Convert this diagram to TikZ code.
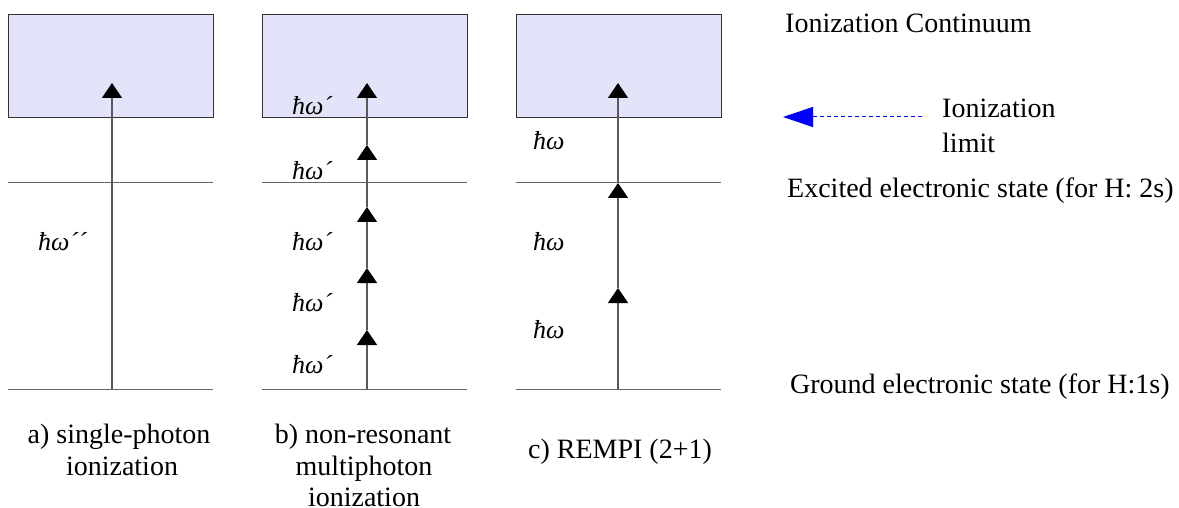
\documentclass[tikz,border=0pt]{standalone}
\usepackage{fontspec}
\setmainfont{Liberation Serif}
\usetikzlibrary{arrows.meta}
\definecolor{contfill}{RGB}{227,227,250}
\begin{document}
\begin{tikzpicture}[x=1pt,y=-1pt,
  cont/.style={draw=black!80,fill=contfill,line width=1pt,inner sep=0pt,
    minimum width=205pt,minimum height=103pt,anchor=north west},
  level/.style={draw=black!60,line width=1pt},
  photon/.style={draw=black!65,line width=1.5pt,
    -{Triangle[width=20pt,length=15pt,color=black]}},
  limarrow/.style={draw=blue,line width=1pt,dash pattern=on 4pt off 3pt,
    -{Triangle[width=20pt,length=30pt,color=blue]}},
  lbl/.style={font=\fontsize{28}{32}\selectfont,inner sep=0pt,anchor=base west},
  captext/.style={font=\fontsize{28}{32}\selectfont,inner sep=0pt,anchor=base},
  hw/.style={font=\fontsize{26}{30}\selectfont\itshape,inner sep=0pt,anchor=base west}
]
\useasboundingbox (0,0) rectangle (1179,508);

% continuum boxes
\node[cont] (boxA) at (8,14) {};
\node[cont] (boxB) at (262,14) {};
\node[cont] (boxC) at (516,14) {};

% levels
\foreach \x in {8,262,516}{
  \draw[level] (\x,183) -- ++(205,0);
  \draw[level] (\x,389) -- ++(205,0);
}

% panel a
\coordinate (a0) at (112,389);
\coordinate (a1) at (112,83);
\draw[photon] (a0) -- (a1);
\node[hw] (la) at (38,251) {ħω´´};

% panel b
\coordinate (b0) at (367,389);
\coordinate (b1) at (367,330);
\coordinate (b2) at (367,268);
\coordinate (b3) at (367,207);
\coordinate (b4) at (367,145);
\coordinate (b5) at (367,83);
\draw[photon] (b0) -- (b1);
\draw[photon] (b1) -- (b2);
\draw[photon] (b2) -- (b3);
\draw[photon] (b3) -- (b4);
\draw[photon] (b4) -- (b5);
\node[hw] (lb1) at (292,373) {ħω´};
\node[hw] (lb2) at (292,311) {ħω´};
\node[hw] (lb3) at (292,251) {ħω´};
\node[hw] (lb4) at (292,180) {ħω´};
\node[hw] (lb5) at (292,115) {ħω´};

% panel c
\coordinate (c0) at (618,389);
\coordinate (c1) at (618,288);
\coordinate (c2) at (618,183);
\coordinate (c3) at (618,83);
\draw[photon] (c0) -- (c1);
\draw[photon] (c1) -- (c2);
\draw[photon] (c2) -- (c3);
\node[hw] (lc1) at (533,338) {ħω};
\node[hw] (lc2) at (533,251) {ħω};
\node[hw] (lc3) at (533,150) {ħω};

% ionization limit arrow
\coordinate (limR) at (922,117);
\coordinate (limL) at (783,117);
\draw[limarrow] (limR) -- (limL);

% right-hand labels
\node[lbl] (tcont) at (785,33) {Ionization Continuum};
\node[lbl] (tlim1) at (942,118) {Ionization};
\node[lbl] (tlim2) at (942,153) {limit};
\node[lbl] (texc) at (787,197) {Excited electronic state (for H: 2s)};
\node[lbl] (tgnd) at (790,393) {Ground electronic state (for H:1s)};

% captions
\node[captext] (capa1) at (119,443) {a) single-photon};
\node[captext] (capa2) at (122,475) {ionization};
\node[captext] (capb1) at (363,443) {b) non-resonant};
\node[captext] (capb2) at (364,475) {multiphoton};
\node[captext] (capb3) at (364,506) {ionization};
\node[captext] (capc) at (620,458) {c) REMPI (2+1)};
\end{tikzpicture}
\end{document}
